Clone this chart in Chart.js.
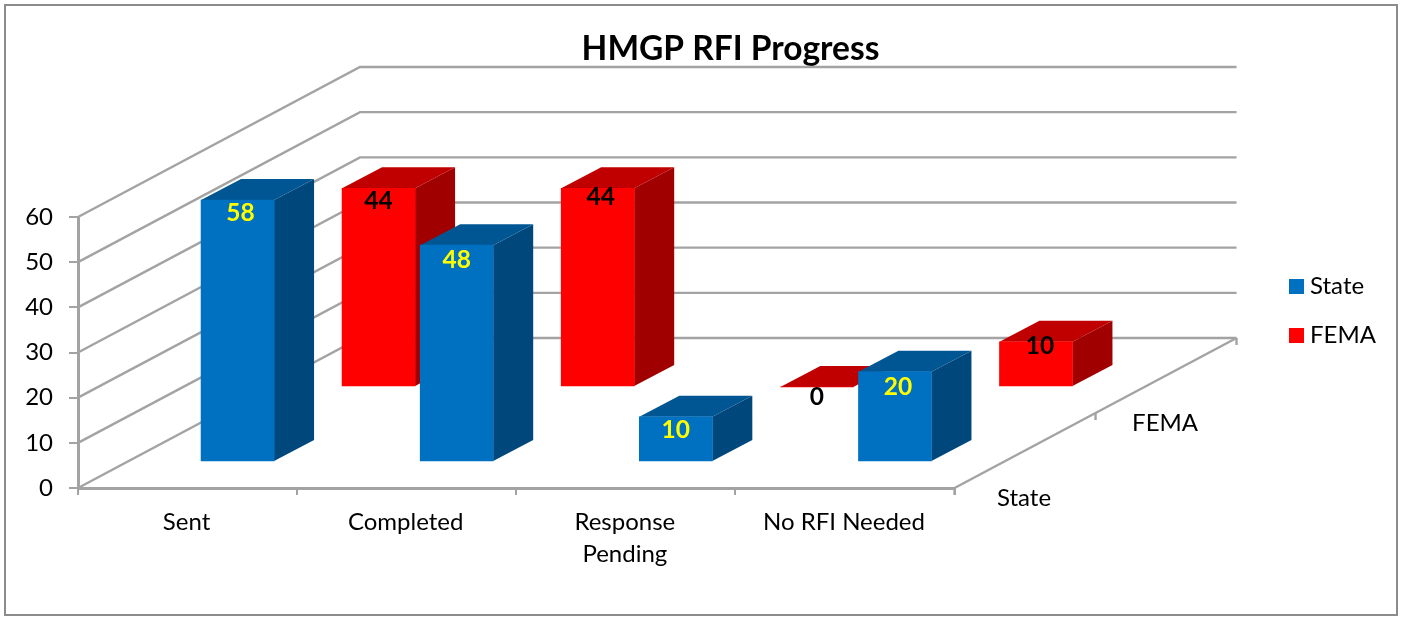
<!DOCTYPE html>
<html>
<head>
<meta charset="utf-8">
<style>html,body{margin:0;padding:0;background:#fff}canvas{display:block}</style>
<script src="https://cdn.jsdelivr.net/npm/chart.js@4/dist/chart.umd.min.js"></script>
</head>
<body>
<div style="width:1403px;height:618px"><canvas id="c" width="1403" height="618"></canvas></div>
<script>
const categories = [["Sent"], ["Completed"], ["Response", "Pending"], ["No RFI Needed"]];
const seriesNames = ["State", "FEMA"];
const stateValues = [58, 48, 10, 20];
const femaValues = [44, 44, 0, 10];
const yTicks = [0, 10, 20, 30, 40, 50, 60];

const FONT = "Lato, Carlito, Calibri, sans-serif";
const GRID = "#a3a3a3";
const wallDepth = { dx: 282, dy: -150 };
const rowShift = [{ dx: 50, dy: -26 }, { dx: 191, dy: -101 }];
const barDepth = { dx: 40, dy: -21 };
const faces = [
  { front: "#0070c0", top: "#005692", side: "#00487c", label: "#ffff00" },
  { front: "#ff0000", top: "#c00000", side: "#a00000", label: "#000000" }
];
const labelNudge = [
  [{ x: 3, y: 13 }, { x: 0, y: 15 }, { x: 0, y: 13 }, { x: 3, y: 15 }],
  [{ x: 0, y: 13 }, { x: 3, y: 9 }, { x: 0, y: 10 }, { x: 4, y: 4 }]
];

function swatch(color) {
  const s = document.createElement("canvas");
  s.width = 15; s.height = 15;
  const g = s.getContext("2d");
  g.fillStyle = color; g.fillRect(0, 0, 15, 15);
  return s;
}
const swatches = faces.map(f => swatch(f.front));

function poly(ctx, pts, fill) {
  ctx.beginPath();
  pts.forEach((p, i) => i ? ctx.lineTo(p[0], p[1]) : ctx.moveTo(p[0], p[1]));
  ctx.closePath();
  ctx.fillStyle = fill;
  ctx.fill();
}

const scene3d = {
  id: "scene3d",
  beforeDraw(chart) {
    const ctx = chart.ctx;
    ctx.save();
    ctx.strokeStyle = "#8c8c8c";
    ctx.lineWidth = 2;
    ctx.strokeRect(5, 5, 1392, 610);
    ctx.restore();
  },
  beforeDatasetsDraw(chart) {
    const { ctx, chartArea: a, scales: { y } } = chart;
    const farRight = a.right + wallDepth.dx;
    ctx.save();
    ctx.strokeStyle = GRID;
    ctx.lineWidth = 2.4;
    ctx.lineJoin = "miter";
    yTicks.forEach(v => {
      const py = y.getPixelForValue(v);
      ctx.beginPath();
      ctx.moveTo(a.left, py);
      ctx.lineTo(a.left + wallDepth.dx, py + wallDepth.dy);
      ctx.lineTo(farRight, py + wallDepth.dy);
      ctx.stroke();
    });
    // right edge of the floor with its series ticks
    const y0 = y.getPixelForValue(0);
    ctx.beginPath();
    ctx.moveTo(a.right, y0);
    ctx.lineTo(farRight, y0 + wallDepth.dy);
    ctx.stroke();
    for (let i = 0; i <= seriesNames.length; i++) {
      const tx = a.right + wallDepth.dx * i / seriesNames.length;
      const ty = y0 + wallDepth.dy * i / seriesNames.length;
      ctx.beginPath();
      ctx.moveTo(tx, ty);
      ctx.lineTo(tx, ty + 7);
      ctx.stroke();
    }
    ctx.fillStyle = "#000";
    ctx.font = "24px " + FONT;
    ctx.textAlign = "center";
    ctx.textBaseline = "middle";
    seriesNames.forEach((name, i) => {
      const f = (i + 0.5) / seriesNames.length;
      ctx.fillText(name, a.right + wallDepth.dx * f - 1, y0 + wallDepth.dy * f + 48);
    });
    ctx.restore();
  },
  beforeDatasetDraw(chart, args) {
    const ctx = chart.ctx, s = rowShift[args.index], f = faces[args.index];
    ctx.save();
    ctx.translate(s.dx, s.dy);
    args.meta.data.forEach(el => {
      const { x, y, base, width } = el.getProps(["x", "y", "base", "width"], true);
      const l = x - width / 2, r = x + width / 2, d = barDepth;
      poly(ctx, [[r, y], [r + d.dx, y + d.dy], [r + d.dx, base + d.dy], [r, base]], f.side);
      poly(ctx, [[l, y], [r, y], [r + d.dx, y + d.dy], [l + d.dx, y + d.dy]], f.top);
    });
  },
  afterDatasetDraw(chart) {
    chart.ctx.restore();
  },
  afterDatasetsDraw(chart) {
    const ctx = chart.ctx;
    ctx.save();
    ctx.font = "bold 24.5px " + FONT;
    ctx.textAlign = "center";
    ctx.textBaseline = "middle";
    chart.data.datasets.forEach((ds, i) => {
      const s = rowShift[i];
      chart.getDatasetMeta(i).data.forEach((el, j) => {
        const n = labelNudge[i][j];
        ctx.fillStyle = faces[i].label;
        ctx.fillText(String(ds.data[j]), el.x + s.dx + n.x, el.y + s.dy + n.y);
      });
    });
    ctx.restore();
  }
};

function spacerAxis(width, weight) {
  return {
    position: "right",
    display: true,
    weight,
    grid: { display: false },
    border: { display: false },
    ticks: { display: false },
    afterFit(s) { s.width = width; }
  };
}

new Chart(document.getElementById("c"), {
  type: "bar",
  data: {
    labels: categories,
    datasets: [
      { label: seriesNames[0], data: stateValues, backgroundColor: faces[0].front, grouped: false, barThickness: 73, clip: false, borderWidth: 0 },
      { label: seriesNames[1], data: femaValues, backgroundColor: faces[1].front, grouped: false, barThickness: 73, clip: false, borderWidth: 0 }
    ]
  },
  plugins: [scene3d],
  options: {
    responsive: false,
    animation: false,
    events: [],
    layout: { padding: { left: 25, right: -33, top: 4, bottom: 0 }, autoPadding: false },
    scales: {
      x: {
        type: "category",
        offset: true,
        grid: { drawOnChartArea: false, color: GRID, lineWidth: 2, tickLength: 7, offset: true },
        border: { color: GRID, width: 3 },
        ticks: { color: "#000", font: { family: FONT, size: 24, lineHeight: 1.33 }, padding: 11, labelOffset: -1, maxRotation: 0, autoSkip: false },
        afterFit(s) { s.height = 130; }
      },
      y: {
        min: 0, max: 60,
        grid: { drawOnChartArea: false, color: GRID, lineWidth: 2, tickLength: 9 },
        border: { color: GRID, width: 3 },
        ticks: { stepSize: 10, color: "#000", font: { family: FONT, size: 24 }, padding: 16 },
        afterFit(s) { s.width = 53; }
      },
      gapBeforeLegend: spacerAxis(314.5, 0),
      gapAfterLegend: spacerAxis(50, 2000)
    },
    plugins: {
      title: {
        display: true,
        text: "HMGP RFI Progress",
        color: "#000",
        font: { family: FONT, size: 33.5, weight: "bold", lineHeight: 1.2 },
        padding: { top: 25, bottom: 147.8 }
      },
      legend: {
        display: true,
        position: "right",
        labels: {
          color: "#000",
          font: { family: FONT, size: 24 },
          usePointStyle: true,
          pointStyleWidth: 4,
          padding: 25,
          generateLabels(chart) {
            return Chart.defaults.plugins.legend.labels.generateLabels(chart).map((it, i) => {
              it.pointStyle = swatches[i];
              return it;
            });
          }
        }
      },
      tooltip: { enabled: false }
    }
  }
});
</script>
</body>
</html>
